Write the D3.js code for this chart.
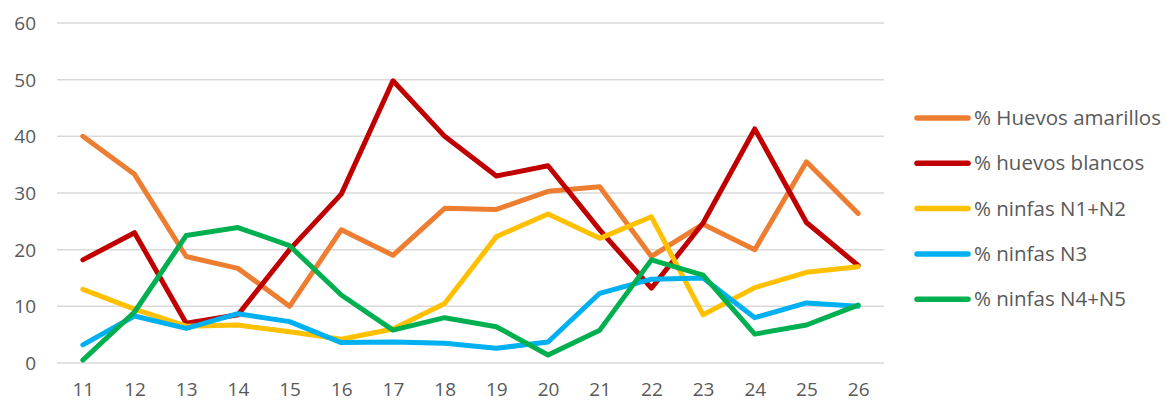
<!DOCTYPE html>
<html>
<head>
<meta charset="utf-8">
<script src="https://cdn.jsdelivr.net/npm/d3@7"></script>
<style>
  body { margin: 0; background: #fff; }
  svg text { font-family: "Open Sans", "Liberation Sans", sans-serif; fill: #595959; }
</style>
</head>
<body>
<div id="chart"></div>
<script>
const categories = ['11', '12', '13', '14', '15', '16', '17', '18', '19', '20', '21', '22', '23', '24', '25', '26'];
const huevosAmarillos = [40, 33.3, 18.8, 16.7, 10, 23.5, 19, 27.3, 27.1, 30.3, 31.1, 18.8, 24.5, 20, 35.5, 26.4];
const huevosBlancos = [18.2, 23, 7, 8.5, 20, 29.8, 49.8, 40, 33, 34.8, 23.5, 13.2, 24.7, 41.3, 24.8, 17.2];
const ninfasN1N2 = [13, 9.5, 6.5, 6.7, 5.5, 4.2, 6, 10.5, 22.3, 26.3, 22, 25.8, 8.5, 13.3, 16, 17];
const ninfasN3 = [3.2, 8.3, 6.1, 8.7, 7.3, 3.6, 3.7, 3.5, 2.6, 3.7, 12.3, 14.8, 15, 8, 10.6, 10];
const ninfasN4N5 = [0.5, 9, 22.5, 23.9, 20.7, 12, 5.8, 8, 6.4, 1.4, 5.8, 18.2, 15.5, 5.1, 6.7, 10.2];
const yTicks = [0, 10, 20, 30, 40, 50, 60];

const series = [
  { name: '% Huevos amarillos', values: huevosAmarillos, color: '#ED7D31' },
  { name: '% huevos blancos', values: huevosBlancos, color: '#C00000' },
  { name: '% ninfas N1+N2', values: ninfasN1N2, color: '#FFC000' },
  { name: '% ninfas N3', values: ninfasN3, color: '#00B0F0' },
  { name: '% ninfas N4+N5', values: ninfasN4N5, color: '#00B050' }
];

const width = 1166;
const height = 403;
const plot = { left: 57, right: 884, top: 23, bottom: 363 };

const svg = d3.select('#chart')
  .append('svg')
    .attr('width', width)
    .attr('height', height);

const x = d3.scalePoint()
  .domain(categories)
  .range([plot.left, plot.right])
  .padding(0.5);

const y = d3.scaleLinear()
  .domain([0, 60])
  .range([plot.bottom, plot.top]);

// gridlines
svg.append('g')
  .selectAll('line')
  .data(yTicks)
  .enter()
  .append('line')
    .attr('x1', plot.left)
    .attr('x2', plot.right)
    .attr('y1', d => y(d))
    .attr('y2', d => y(d))
    .attr('stroke', '#d9d9d9')
    .attr('stroke-width', 1.5);

// y axis labels
const yAxis = svg.append('g')
  .attr('transform', `translate(${plot.left - 21}, 0)`)
  .call(d3.axisLeft(y).tickValues(yTicks).tickSize(0).tickPadding(0));
yAxis.select('.domain').remove();
yAxis.selectAll('text').attr('font-size', 19).attr('dy', '0.35em');

// x axis labels
const xAxis = svg.append('g')
  .attr('transform', `translate(0, ${plot.bottom + 19})`)
  .call(d3.axisBottom(x).tickSize(0).tickPadding(0));
xAxis.select('.domain').remove();
xAxis.selectAll('text').attr('font-size', 19).attr('dy', '0.75em');

const line = d3.line()
  .x((d, i) => x(categories[i]))
  .y(d => y(d));

svg.append('g')
  .selectAll('path')
  .data(series)
  .enter()
  .append('path')
    .attr('d', d => line(d.values))
    .attr('fill', 'none')
    .attr('stroke', d => d.color)
    .attr('stroke-width', 5)
    .attr('stroke-linejoin', 'round')
    .attr('stroke-linecap', 'round');

// legend
const legend = svg.append('g')
  .attr('transform', 'translate(915, 118)');

const item = legend.selectAll('g')
  .data(series)
  .enter()
  .append('g')
    .attr('transform', (d, i) => `translate(0, ${i * 45.3})`);

item.append('line')
  .attr('x1', 2)
  .attr('x2', 53)
  .attr('stroke', d => d.color)
  .attr('stroke-width', 5.5)
  .attr('stroke-linecap', 'round');

item.append('text')
  .attr('x', 59)
  .attr('dy', '0.35em')
  .attr('font-size', 20.5)
  .text(d => d.name);
</script>
</body>
</html>
